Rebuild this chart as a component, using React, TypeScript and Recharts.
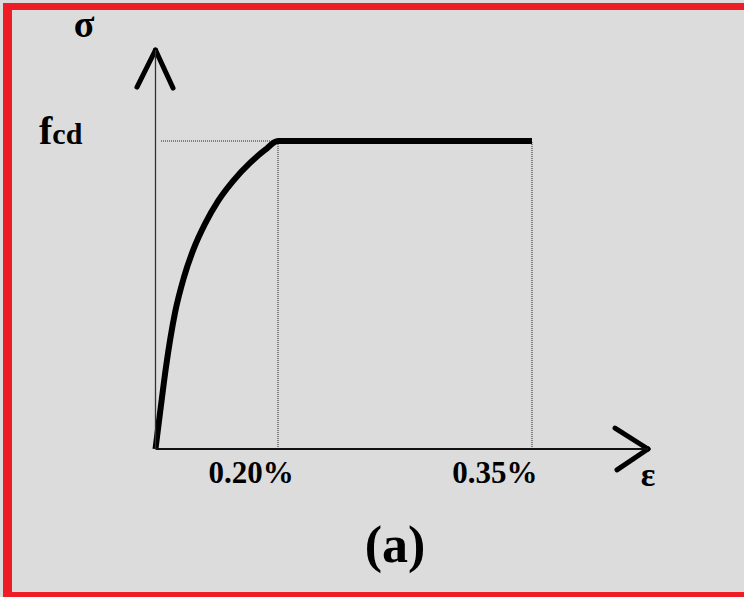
import React from 'react';
import { ComposedChart, Line, XAxis, YAxis, ReferenceLine } from 'recharts';

// stress-strain curve (stress as fraction of fcd, strain in %)
const strain = [0, 0.0074, 0.0171, 0.0318, 0.0465, 0.0629, 0.0808, 0.102, 0.1265, 0.1543, 0.1788, 0.2, 0.35];
const stress = [0, 0.117, 0.266, 0.442, 0.558, 0.653, 0.731, 0.805, 0.87, 0.929, 0.971, 1, 1];
const tickStrains = [0.2, 0.35];
const tickLabels = ['0.20%', '0.35%'];

// the sketch is not to scale: 0..0.20% and 0.20..0.35% use different lengths
const toAxis = (e: number) => (e <= 0.2 ? e / 0.2 : 1 + ((e - 0.2) / 0.15) * 2.073);

const data = strain.map((e, i) => ({ x: toAxis(e), y: stress[i] }));
const ticks = tickStrains.map(toAxis);

const FONT = '"Liberation Serif", "Times New Roman", serif';
const labelDx = [-27, -37];

const XTick = (props: any) => {
  const { x, index } = props;
  return (
    <text x={x + labelDx[index]} y={483} textAnchor="middle" fontFamily={FONT} fontWeight="bold" fontSize={31} fill="#000">
      {tickLabels[index]}
    </text>
  );
};

const YTick = (props: any) => {
  const { y } = props;
  return (
    <text x={39} y={y + 3} fontFamily={FONT} fontWeight="bold" fill="#000">
      <tspan fontSize={40}>f</tspan>
      <tspan fontSize={30}>cd</tspan>
    </text>
  );
};

const arrow = { stroke: '#000', strokeWidth: 5, strokeLinecap: 'round' as const, ifOverflow: 'visible' as const };
const dotted = { stroke: '#222', strokeWidth: 1, strokeDasharray: '1 1', ifOverflow: 'visible' as const };
const red = '#ee1c25';

const App: React.FC = () => {
  return (
    <div style={{ position: 'absolute', left: 0, top: 0, width: 744, height: 597, background: '#dcdcdc', overflow: 'hidden' }}>
      <div style={{ position: 'absolute', left: 3, top: 3, width: 9, height: 594, background: red }} />
      <div style={{ position: 'absolute', left: 3, top: 3, width: 741, height: 7, background: red }} />
      <div style={{ position: 'absolute', left: 3, top: 592, width: 741, height: 5, background: red }} />
      <div style={{ position: 'absolute', left: 0, top: 0 }}>
        <ComposedChart width={744} height={597} data={data} margin={{ top: 50, right: 96, bottom: 98, left: 0.5 }}>
          <XAxis
            type="number"
            dataKey="x"
            domain={[0, 4.02]}
            ticks={ticks}
            tick={<XTick />}
            tickLine={false}
            height={50}
            axisLine={{ stroke: '#111', strokeWidth: 2 }}
          />
          <YAxis
            type="number"
            domain={[0, 1.2955]}
            ticks={[1]}
            tick={<YTick />}
            tickLine={false}
            width={155}
            axisLine={{ stroke: '#333', strokeWidth: 1.3 }}
          />
          <ReferenceLine segment={[{ x: 0.045, y: 1 }, { x: 1, y: 1 }]} {...dotted} />
          <ReferenceLine segment={[{ x: ticks[0], y: 0 }, { x: ticks[0], y: 1 }]} {...dotted} />
          <ReferenceLine segment={[{ x: ticks[1], y: 0 }, { x: ticks[1], y: 1 }]} {...dotted} />
          <ReferenceLine segment={[{ x: -0.151, y: 1.175 }, { x: 0, y: 1.2955 }]} {...arrow} />
          <ReferenceLine segment={[{ x: 0.143, y: 1.172 }, { x: 0, y: 1.2955 }]} {...arrow} />
          <ReferenceLine segment={[{ x: 3.751, y: 0.068 }, { x: 4.02, y: 0 }]} {...arrow} />
          <ReferenceLine segment={[{ x: 3.767, y: -0.068 }, { x: 4.02, y: 0 }]} {...arrow} />
          <Line
            type="monotone"
            dataKey="y"
            stroke="#000"
            strokeWidth={6}
            dot={false}
            activeDot={false}
            isAnimationActive={false}
          />
        </ComposedChart>
      </div>
      <svg width={744} height={597} style={{ position: 'absolute', left: 0, top: 0, pointerEvents: 'none' }}>
        <text x={84} y={37} textAnchor="middle" fontFamily={FONT} fontWeight="bold" fontSize={38}>σ</text>
        <text x={648} y={486} textAnchor="middle" fontFamily={FONT} fontWeight="bold" fontSize={34}>ε</text>
        <text x={395} y={562} textAnchor="middle" fontFamily={FONT} fontWeight="bold" fontSize={52}>(a)</text>
      </svg>
    </div>
  );
};

export default App;
